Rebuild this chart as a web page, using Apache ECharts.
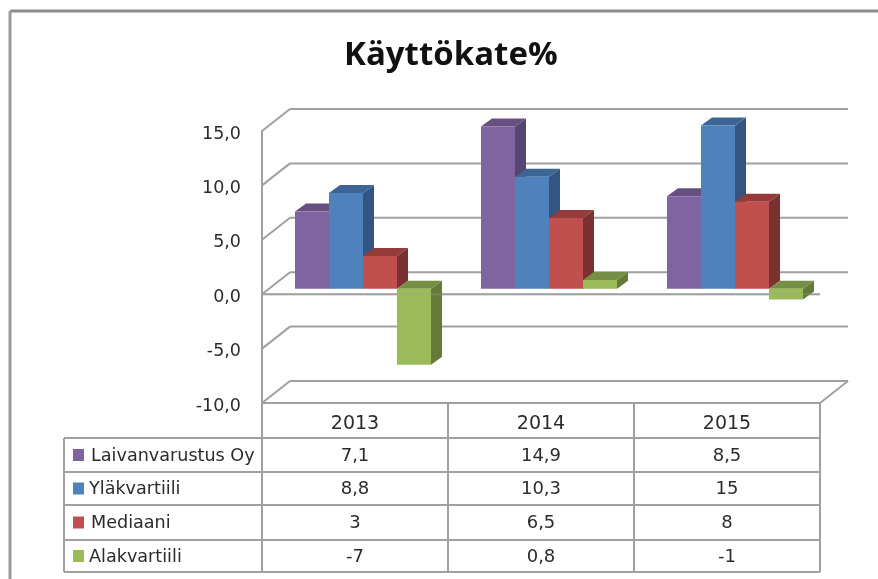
<!DOCTYPE html>
<html>
<head>
<meta charset="utf-8">
<style>
  html, body { margin: 0; padding: 0; background: #fff; }
  #main { width: 878px; height: 579px; }
</style>
<script src="https://cdn.jsdelivr.net/npm/echarts@6/dist/echarts.min.js"></script>
</head>
<body>
<div id="main"></div>
<script>
// data
var years = ['2013', '2014', '2015']
var seriesNames = ['Laivanvarustus Oy', 'Yläkvartiili', 'Mediaani', 'Alakvartiili']
var laivanvarustus = [7.1, 14.9, 8.5]
var ylakvartiili = [8.8, 10.3, 15]
var mediaani = [3, 6.5, 8]
var alakvartiili = [-7, 0.8, -1]
var wallTicks = [-10, -5, 0, 5, 10, 15]

var values = [laivanvarustus, ylakvartiili, mediaani, alakvartiili]
var faceColors = ['#8064a2', '#4f81bd', '#c0504d', '#9bbb59']
var topColors = ['#66507f', '#3c6595', '#953b39', '#758f44']
var sideColors = ['#574470', '#33557f', '#7a3130', '#647a39']

var FONT = '"DejaVu Sans"'
var TEXT = '#2b2b2b'
var LINE = '#a0a0a0'

var grid = { left: 262, top: 131, width: 558, height: 272 }
var wallDx = 28, wallDy = 22     // back wall offset
var barDx = 8, barDy = 5.5       // bars stand a bit behind the front plane
var depthDx = 11, depthDy = 8    // depth of one bar

function fmt(v) {
  return String(v).replace('.', ',')
}

function line(x1, y1, x2, y2, color, width, opacity) {
  return {
    type: 'line',
    shape: { x1: x1, y1: y1, x2: x2, y2: y2 },
    style: { stroke: color, lineWidth: width, opacity: opacity === undefined ? 1 : opacity }
  }
}

function poly(points, color) {
  return { type: 'polygon', shape: { points: points }, style: { fill: color } }
}

// back wall lines, side wall diagonals and the floor
function renderWall(params, api) {
  var cs = params.coordSys
  var v = api.value(1)
  var y = api.coord([0, v])[1]
  var x0 = cs.x, x1 = cs.x + cs.width
  var children = [
    line(x0, y, x0 + wallDx, y - wallDy, LINE, 2),
    line(x0 + wallDx, y - wallDy, x1 + wallDx, y - wallDy, LINE, 2)
  ]
  if (v === 0) children.push(line(x0, y, x1, y, LINE, 2))
  if (v === -10) children.push(line(x1, y, x1 + wallDx, y - wallDy, LINE, 2))
  return { type: 'group', children: children }
}

// 3d column made of front, top and side faces
function renderBar(s) {
  return function (params, api) {
    var band = api.size([1, 0])[0]
    var w = band / 5.47
    var c = api.coord([api.value(0), 0])
    var left = c[0] + barDx - 2 * w + s * w
    var y0 = c[1] - barDy
    var yv = api.coord([api.value(0), api.value(1)])[1] - barDy
    var top = Math.min(y0, yv), bottom = Math.max(y0, yv)
    var right = left + w
    return {
      type: 'group',
      children: [
        poly([[right, top], [right + depthDx, top - depthDy], [right + depthDx, bottom - depthDy], [right, bottom]], sideColors[s]),
        poly([[left, top], [left + depthDx, top - depthDy], [right + depthDx, top - depthDy], [right, top]], topColors[s]),
        poly([[left, top], [right, top], [right, bottom], [left, bottom]], faceColors[s])
      ]
    }
  }
}

// the zero line shows faintly through the columns
function renderZeroOverlay(params, api) {
  var cs = params.coordSys
  var y = api.coord([0, 0])[1]
  return line(cs.x, y, cs.x + cs.width, y, LINE, 2, 0.3)
}

// data table under the chart
function tableGraphics() {
  var rows = [403, 438, 472, 505, 540, 572]
  var cols = [262, 448, 634, 820]
  var tableLeft = 64
  var items = []
  // outer frame of the picture
  items.push(line(10, 11, 878, 11, '#8c8c8c', 3))
  items.push(line(10, 11, 10, 579, '#9a9a9a', 3))
  rows.forEach(function (y, i) {
    if (i > 0) items.push(line(tableLeft, y, cols[3], y, LINE, 2))
  })
  cols.forEach(function (x) {
    items.push(line(x, rows[0], x, rows[5], LINE, 2))
  })
  items.push(line(tableLeft, rows[1], tableLeft, rows[5], LINE, 2))
  seriesNames.forEach(function (name, s) {
    var cy = (rows[s + 1] + rows[s + 2]) / 2
    items.push({ type: 'rect', shape: { x: 73, y: cy - 6, width: 11, height: 12 }, style: { fill: faceColors[s] } })
    items.push({
      type: 'text',
      style: { x: s === 0 || s === 2 ? 91 : 89, y: cy + 1, text: name, font: '17.6px ' + FONT, fill: TEXT, textVerticalAlign: 'middle' }
    })
    values[s].forEach(function (v, k) {
      items.push({
        type: 'text',
        style: { x: (cols[k] + cols[k + 1]) / 2, y: cy + 1, text: fmt(v), font: '18px ' + FONT, fill: TEXT, textAlign: 'center', textVerticalAlign: 'middle' }
      })
    })
  })
  return items
}

var series = [{
  name: 'wall',
  type: 'custom',
  renderItem: renderWall,
  data: wallTicks.map(function (v) { return [0, v] }),
  encode: { x: 0, y: 1 },
  clip: false,
  silent: true,
  z: 1
}]
seriesNames.forEach(function (name, s) {
  series.push({
    name: name,
    type: 'custom',
    renderItem: renderBar(s),
    data: values[s].map(function (v, k) { return [k, v] }),
    encode: { x: 0, y: 1 },
    clip: false,
    z: 3 + s
  })
})
series.push({
  name: 'zero',
  type: 'custom',
  renderItem: renderZeroOverlay,
  data: [[0, 0]],
  encode: { x: 0, y: 1 },
  clip: false,
  silent: true,
  z: 10
})

var myChart = echarts.init(document.getElementById('main'))
myChart.setOption({
  animation: false,
  backgroundColor: '#fff',
  title: {
    text: 'Käyttökate%',
    left: 339,
    top: 34,
    textStyle: { fontFamily: '"Open Sans"', fontSize: 33, fontWeight: 'bold', color: '#111' }
  },
  grid: grid,
  xAxis: {
    type: 'category',
    data: years,
    axisTick: { show: false },
    axisLine: { onZero: false, lineStyle: { color: LINE, width: 2 } },
    axisLabel: { fontFamily: FONT, fontSize: 19, color: TEXT, margin: 12 }
  },
  yAxis: {
    type: 'value',
    min: -10,
    max: 15,
    interval: 5,
    splitLine: { show: false },
    axisTick: { show: false },
    axisLine: { show: true, onZero: false, lineStyle: { color: LINE, width: 2 } },
    axisLabel: {
      fontFamily: FONT,
      fontSize: 17.5,
      color: TEXT,
      margin: 21,
      verticalAlign: 'top',
      lineHeight: 6,
      formatter: function (v) { return v.toFixed(1).replace('.', ',') }
    }
  },
  series: series,
  graphic: tableGraphics()
})
</script>
</body>
</html>
